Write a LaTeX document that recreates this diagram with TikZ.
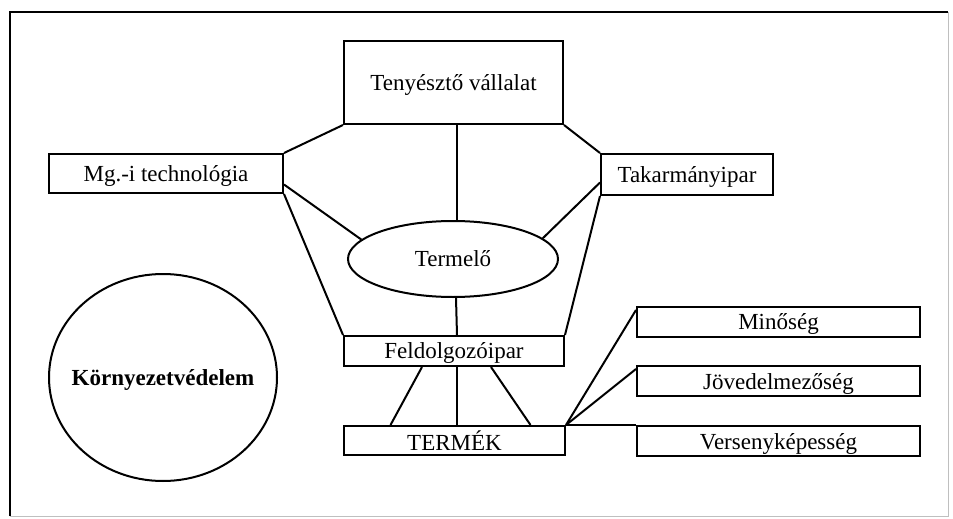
\documentclass[tikz,border=0pt]{standalone}
\usepackage{fontspec}
\setmainfont{Liberation Serif}
\usetikzlibrary{shapes.geometric}

\begin{document}
\begin{tikzpicture}[x=1pt,y=-1pt,line width=2pt,
  box/.style={draw,rectangle,inner sep=0pt,text depth=0pt,font=\fontsize{23}{27}\selectfont},
  oval/.style={draw,ellipse,inner sep=0pt,text depth=0pt,font=\fontsize{23}{27}\selectfont}]
  \useasboundingbox (0,0) rectangle (953,519);
  % keret
  \draw[line width=1.5pt] (10,516) -- (10,12) -- (948,12);
  \draw[line width=1pt,black!25] (948,12) -- (948,516) -- (10,516);

  \node[box,minimum width=219pt,minimum height=83pt] (tenyeszto) at (453.5,82.5) {Tenyésztő vállalat};
  \node[box,minimum width=234pt,minimum height=39pt] (mgtech) at (166,173.5) {Mg.-i technológia};
  \node[box,minimum width=172pt,minimum height=41pt] (takarmany) at (687,174.5) {Takarmányipar};
  \node[oval,minimum width=210pt,minimum height=76pt] (termelo) at (453,259) {Termelő};
  \node[box,minimum width=220pt,minimum height=30pt] (feldolg) at (454,351) {Feldolgozóipar};
  \node[box,minimum width=221pt,minimum height=29pt] (termek) at (454.5,440.5) {TERMÉK};
  \node[box,minimum width=283pt,minimum height=30pt] (minoseg) at (778.5,322) {Minőség};
  \node[box,minimum width=283pt,minimum height=30pt] (jovedelem) at (778.5,381) {Jövedelmezőség};
  \node[box,minimum width=283pt,minimum height=30pt] (verseny) at (778.5,441) {Versenyképesség};
  \node[oval,minimum width=228pt,minimum height=207pt] (korny) at (163,377.5) {};
  \node[text depth=0pt,font=\fontsize{23}{27}\selectfont\bfseries] (kornytext) at (korny.center) {Környezetvédelem};

  % kapcsolatok
  \draw (tenyeszto.south west) -- (mgtech.north east);
  \draw (tenyeszto.south east) -- (takarmany.north west);
  \draw ([xshift=3.5pt]tenyeszto.south) -- ([xshift=4pt]termelo.north);
  \draw ([yshift=-11pt]mgtech.east) -- (termelo.168);
  \draw ([yshift=-8pt]takarmany.west) -- (termelo.13);
  \draw (mgtech.south east) -- (feldolg.north west);
  \draw (takarmany.south west) -- (feldolg.north east);
  \draw ([xshift=3pt]termelo.south) -- ([xshift=3pt]feldolg.north);
  \draw ([xshift=-32pt]feldolg.south) -- ([xshift=-64pt]termek.north);
  \draw ([xshift=3pt]feldolg.south) -- ([xshift=2.5pt]termek.north);
  \draw ([xshift=37pt]feldolg.south) -- ([xshift=76pt]termek.north);
  \draw (termek.north east) -- ([yshift=-4pt]minoseg.north west);
  \draw (termek.north east) -- ([yshift=-4pt]jovedelem.north west);
  \draw (termek.north east) -- (verseny.north west);
\end{tikzpicture}
\end{document}
